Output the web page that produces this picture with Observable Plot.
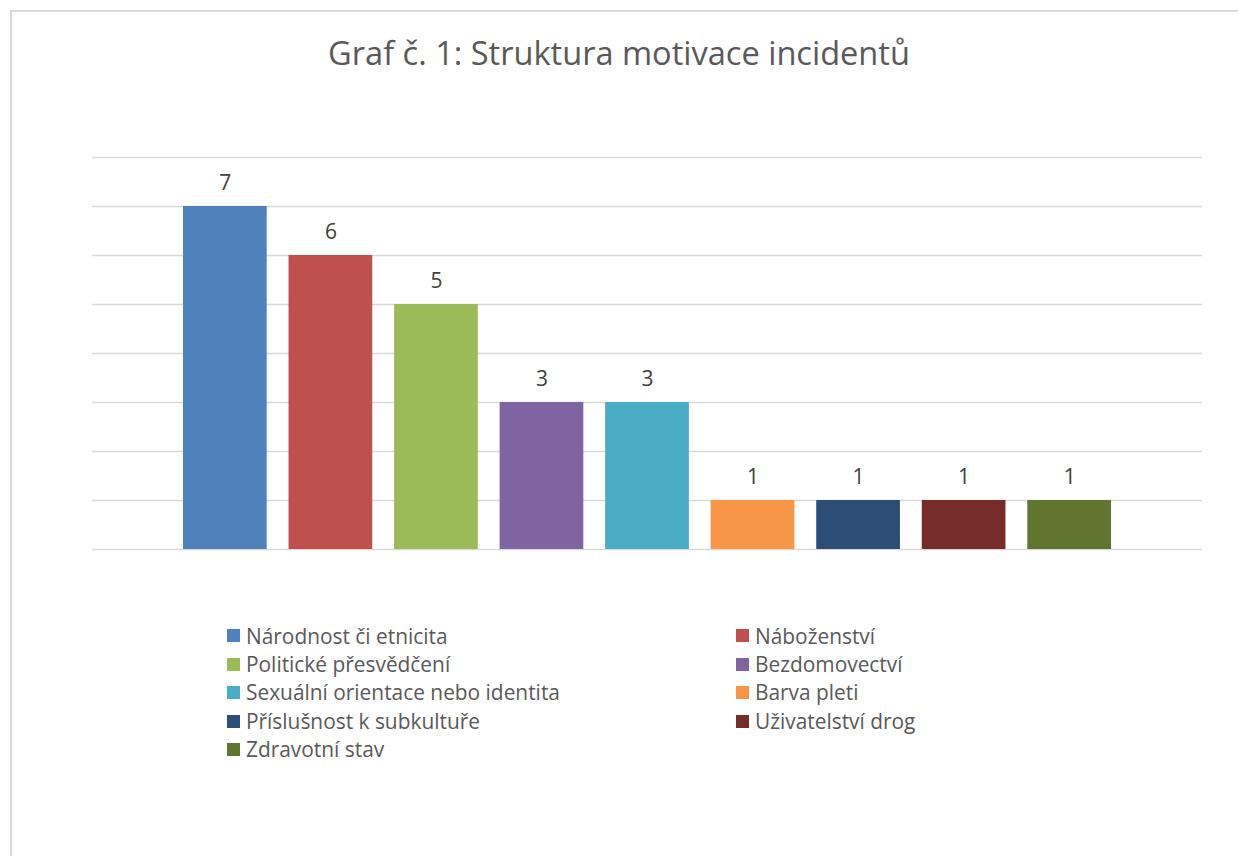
<!DOCTYPE html>
<html>
<head>
<meta charset="utf-8">
<script src="https://cdn.jsdelivr.net/npm/d3@7"></script>
<script src="https://cdn.jsdelivr.net/npm/@observablehq/plot@0.6"></script>
<style>
  html, body { margin: 0; padding: 0; background: #fff; width: 1238px; height: 856px; overflow: hidden; }
  #frame { position: absolute; left: 10px; top: 10px; width: 1300px; height: 900px; border: 2px solid #d9d9d9; box-sizing: border-box; }
  #title { position: absolute; left: 0; width: 1238px; text-align: center; font-family: "Open Sans", sans-serif; color: #595959; white-space: nowrap; }
  #chart { position: absolute; left: 0; top: 0; }
  .col { position: absolute; font-family: "Open Sans", sans-serif; color: #595959; }
  .item { display: flex; align-items: center; height: 28.4px; white-space: nowrap; }
  .sw { width: 13px; height: 13px; margin-right: 6px; flex: none; }
</style>
</head>
<body>
<div id="frame"></div>
<div id="title">Graf č. 1: Struktura motivace incidentů</div>
<div id="chart"></div>
<div id="legend"></div>
<script>
// ---- data ----
const categories = [
  "Národnost či etnicita",
  "Náboženství",
  "Politické přesvědčení",
  "Bezdomovectví",
  "Sexuální orientace nebo identita",
  "Barva pleti",
  "Příslušnost k subkultuře",
  "Uživatelství drog",
  "Zdravotní stav"
];
const counts = [7, 6, 5, 3, 3, 1, 1, 1, 1];
const colors = ["#4F81BD", "#C0504D", "#9BBB59", "#8064A2", "#4BACC6", "#F79646", "#2C4D75", "#772C2A", "#5F7530"];
const yTicks = [0, 1, 2, 3, 4, 5, 6, 7, 8];

const data = categories.map((c, i) => ({category: c, value: counts[i]}));

// ---- font fitting helper ----
const ctx = document.createElement("canvas").getContext("2d");
function fit(text, target, family) {
  ctx.font = `100px ${family}`;
  return 100 * target / ctx.measureText(text).width;
}
const FAM = '"Open Sans"';

// title
const titleEl = document.getElementById("title");
const tSize = fit(titleEl.textContent, 582, FAM);
titleEl.style.fontSize = tSize + "px";
titleEl.style.lineHeight = (tSize * 1.362) + "px";
titleEl.style.top = (65.7 - 1.069 * tSize) + "px";

// chart
const chart = Plot.plot({
  width: 1238,
  height: 560,
  marginTop: 157,
  marginBottom: 11,
  marginLeft: 92,
  marginRight: 36,
  x: {domain: categories, range: [183, 1111], paddingInner: 0.207, paddingOuter: 0, round: false, axis: null},
  y: {domain: [0, 8], axis: null},
  color: {domain: categories, range: colors},
  style: {background: "transparent", overflow: "visible"},
  marks: [
    Plot.ruleY(yTicks, {stroke: "#d9d9d9", strokeWidth: 1.6, strokeOpacity: 1}),
    Plot.barY(data, {x: "category", y: "value", fill: "category"}),
    Plot.text(data, {x: "category", y: "value", text: d => String(d.value), lineAnchor: "bottom", dy: -17, fill: "#404040", fontSize: 21, fontFamily: FAM})
  ]
});
document.getElementById("chart").appendChild(chart);

// legend
const legend = document.getElementById("legend");
const lSize = fit("Sexuální orientace nebo identita", 314, FAM);
const cols = [
  {left: 227, items: categories.map((c, i) => i).filter(i => i % 2 === 0)},
  {left: 736, items: categories.map((c, i) => i).filter(i => i % 2 === 1)}
];
const rowTop = 644 - ((28.4 - 1.362 * lSize) / 2 + 1.069 * lSize);
for (const col of cols) {
  const div = document.createElement("div");
  div.className = "col";
  div.style.left = col.left + "px";
  div.style.top = rowTop + "px";
  div.style.fontSize = lSize + "px";
  div.style.lineHeight = "28.4px";
  for (const i of col.items) {
    const it = document.createElement("div");
    it.className = "item";
    const sw = document.createElement("span");
    sw.className = "sw";
    sw.style.background = colors[i];
    const tx = document.createElement("span");
    tx.textContent = categories[i];
    it.appendChild(sw);
    it.appendChild(tx);
    div.appendChild(it);
  }
  legend.appendChild(div);
}
</script>
</body>
</html>
